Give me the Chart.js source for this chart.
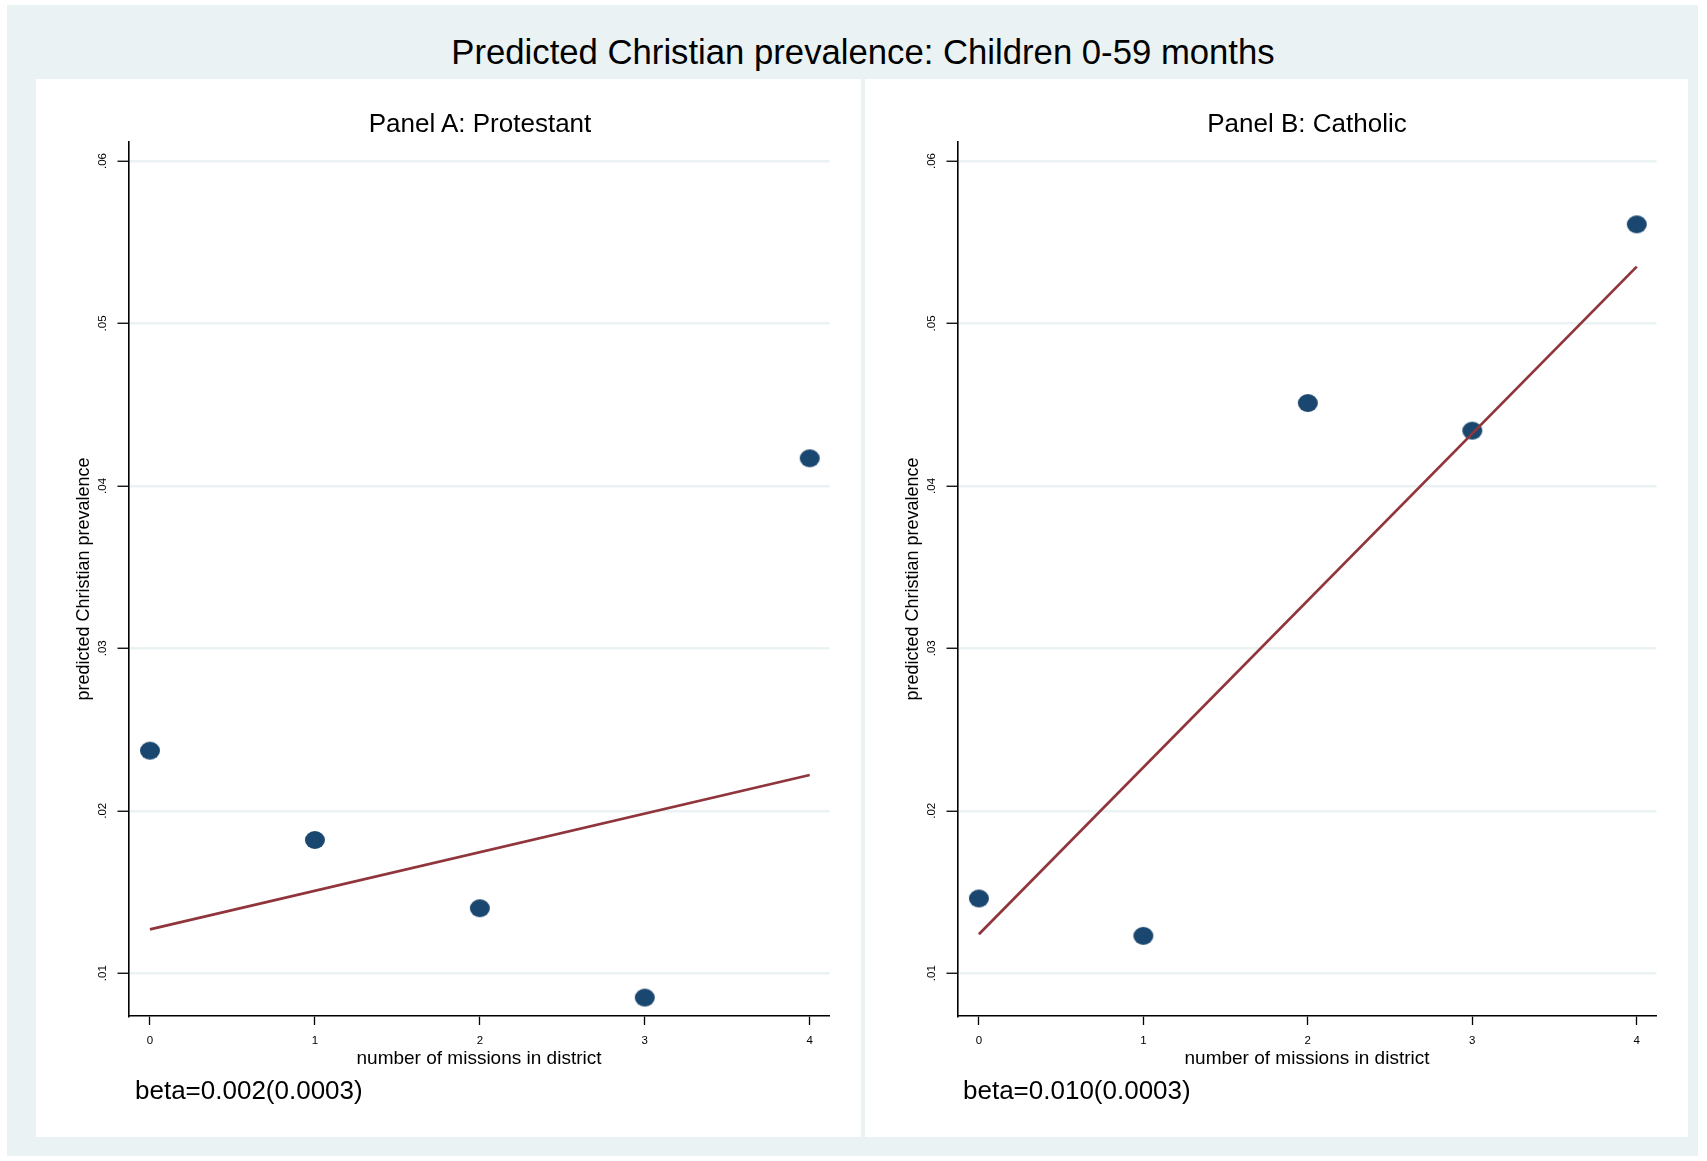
<!DOCTYPE html>
<html>
<head>
<meta charset="utf-8">
<script src="https://cdn.jsdelivr.net/npm/chart.js@4/dist/chart.umd.min.js"></script>
<style>
  body { margin: 0; background: #fff; width: 1707px; height: 1161px; position: relative; overflow: hidden;
         font-family: "Liberation Sans", Arial, sans-serif; color: #000; }
  #frame { position: absolute; left: 7px; top: 5px; width: 1691px; height: 1151px; background: #EAF2F3; }
  .panel { position: absolute; top: 79px; height: 1058px; background: #fff; }
  .txt { position: absolute; line-height: 1; white-space: nowrap; }
  #mainTitle { top: 35px; left: 0; width: 1726px; text-align: center; font-size: 34.7px; }
  .ptitle { top: 110px; font-size: 26px; text-align: center; width: 600px; }
  .note { top: 1077px; font-size: 26px; }
</style>
</head>
<body>
<div id="frame"></div>
<div class="txt" id="mainTitle">Predicted Christian prevalence: Children 0-59 months</div>

<div class="panel" id="boxA" style="left:36px;width:825px;"><canvas id="chartA" width="825" height="1058"></canvas></div>
<div class="panel" id="boxB" style="left:865px;width:823px;"><canvas id="chartB" width="823" height="1058"></canvas></div>

<div class="txt ptitle" style="left:180px;">Panel A: Protestant</div>
<div class="txt ptitle" style="left:1007px;">Panel B: Catholic</div>
<div class="txt note" style="left:135px;">beta=0.002(0.0003)</div>
<div class="txt note" style="left:963px;">beta=0.010(0.0003)</div>

<script>
// Number of missions in district (x values)
const missions = [0, 1, 2, 3, 4];

// Predicted prevalence, Panel A (Protestant)
const protestant = [0.0237, 0.0182, 0.0140, 0.0085, 0.0417];
const protestantFit = [0.0127, 0.0222];   // fitted line at x = 0 and x = 4

// Predicted prevalence, Panel B (Catholic)
const catholic = [0.0146, 0.0123, 0.0451, 0.0434, 0.0561];
const catholicFit = [0.0124, 0.0535];

// Axis ticks
const xTicks = [0, 1, 2, 3, 4];
const xTickLabels = ['0', '1', '2', '3', '4'];
const yTicks = [0.01, 0.02, 0.03, 0.04, 0.05, 0.06];
const yTickLabels = ['.01', '.02', '.03', '.04', '.05', '.06'];

const navy = '#1A476F';
const maroon = '#90353B';
const gridColor = '#EAF2F3';

Chart.defaults.font.family = '"Liberation Sans", Arial, sans-serif';
Chart.defaults.color = '#000';

// Stata-like slightly oval marker
function makeMarker() {
    const c = document.createElement('canvas');
    c.width = 22;
    c.height = 20;
    const g = c.getContext('2d');
    g.fillStyle = navy;
    g.beginPath();
    g.ellipse(11, 10, 10, 9, 0, 0, 2 * Math.PI);
    g.fill();
    return c;
}
const marker = makeMarker();

function buildChart(canvasId, values, fit) {
    const points = missions.map((m, i) => ({ x: m, y: values[i] }));
    const line = [
        { x: missions[0], y: fit[0] },
        { x: missions[missions.length - 1], y: fit[1] }
    ];

    return new Chart(document.getElementById(canvasId), {
        type: 'scatter',
        data: {
            datasets: [
                {
                    type: 'line',
                    data: line,
                    borderColor: maroon,
                    borderWidth: 2.7,
                    pointRadius: 0,
                    fill: false,
                    order: 0
                },
                {
                    data: points,
                    pointStyle: marker,
                    pointRadius: 9,
                    order: 1
                }
            ]
        },
        options: {
            responsive: false,
            animation: false,
            layout: { padding: { top: 63, left: 0, right: 31.5, bottom: 0 } },
            plugins: {
                legend: { display: false },
                tooltip: { enabled: false }
            },
            scales: {
                x: {
                    type: 'linear',
                    min: -0.13,
                    max: 4.12,
                    afterBuildTicks: axis => { axis.ticks = xTicks.map(v => ({ value: v })); },
                    afterFit: scale => { scale.height = 121; },
                    ticks: {
                        font: { size: 11.5 },
                        padding: 9,
                        maxRotation: 0,
                        callback: (v, i) => xTickLabels[i]
                    },
                    grid: {
                        drawOnChartArea: false,
                        tickColor: '#000',
                        tickLength: 9,
                        tickWidth: 1.3
                    },
                    border: { color: '#000', width: 1.6 },
                    title: {
                        display: true,
                        text: 'number of missions in district',
                        font: { size: 19 },
                        padding: { top: 0, bottom: 66.5 }
                    }
                },
                y: {
                    type: 'linear',
                    min: 0.007365,
                    max: 0.06117,
                    afterBuildTicks: axis => { axis.ticks = yTicks.map(v => ({ value: v })); },
                    afterFit: scale => { scale.width = 92.5; },
                    ticks: {
                        font: { size: 11.5 },
                        padding: 7,
                        minRotation: 90,
                        maxRotation: 90,
                        crossAlign: 'center',
                        callback: (v, i) => yTickLabels[i]
                    },
                    grid: {
                        color: gridColor,
                        lineWidth: 2.5,
                        tickColor: '#000',
                        tickLength: 11,
                        tickWidth: 1.3
                    },
                    border: { color: '#000', width: 1.6 },
                    title: {
                        display: true,
                        text: 'predicted Christian prevalence',
                        font: { size: 18 },
                        padding: { top: 37, bottom: 0 }
                    }
                }
            }
        }
    });
}

buildChart('chartA', protestant, protestantFit);
buildChart('chartB', catholic, catholicFit);
</script>
</body>
</html>
